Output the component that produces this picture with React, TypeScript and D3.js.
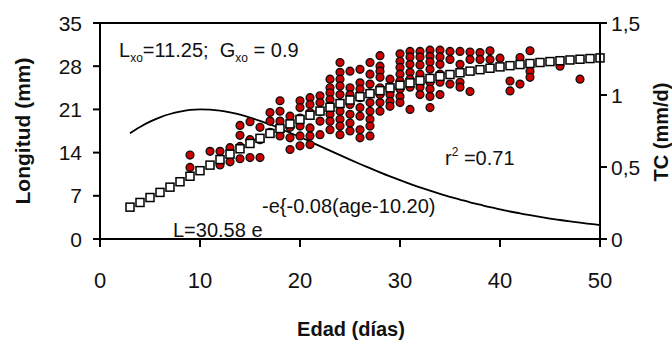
import React from 'react';
import * as d3 from 'd3';

// Model ages (days)
const modelAges = [3,4,5,6,7,8,9,10,11,12,13,14,15,16,17,18,19,20,21,22,23,24,25,26,27,28,29,30,31,32,33,34,35,36,37,38,39,40,41,42,43,44,45,46,47,48,49,50];
// Fitted length (mm) - squares
const fittedLength = [5.16,5.92,6.72,7.55,8.40,9.28,10.17,11.07,11.97,12.87,13.75,14.62,15.48,16.31,17.11,17.90,18.65,19.37,20.06,20.73,21.35,21.95,22.52,23.06,23.56,24.04,24.49,24.91,25.30,25.68,26.02,26.35,26.65,26.94,27.20,27.44,27.67,27.89,28.09,28.27,28.44,28.60,28.75,28.89,29.01,29.13,29.24,29.34];
// Growth rate TC (mm/d) - line
const growthRate = [0.735,0.778,0.815,0.845,0.868,0.885,0.896,0.900,0.898,0.891,0.879,0.863,0.843,0.820,0.795,0.767,0.738,0.708,0.677,0.645,0.614,0.582,0.551,0.521,0.492,0.463,0.435,0.409,0.383,0.359,0.336,0.314,0.293,0.274,0.255,0.238,0.221,0.206,0.191,0.178,0.165,0.153,0.142,0.132,0.122,0.113,0.105,0.097];

// Observed lengths grouped by age
const obsAges = [9,11,12,13,14,15,16,17,18,19,20,21,22,23,24,25,26,27,28,29,30,31,32,33,34,35,36,37,38,39,40,41,42,43,46,48];
const obsLengths = [
  [13.6,11.6],
  [14.2],
  [14.2,12.0],
  [14.8,12.5],
  [18.4,16.8,15.0,13.0],
  [19.0,16.1,13.2],
  [18.1,16.1,13.2],
  [20.5,19.1,17.3],
  [22.4,20.7,19.1,16.7],
  [19.9,18.1,16.4,14.5],
  [22.4,21.3,19.6,18.3,16.7,15.1],
  [22.9,21.8,20.5,18.0,16.7,15.3],
  [23.2,22.1,20.7,19.1,16.9],
  [25.9,24.5,23.7,22.6,21.5,20.2,19.1,17.7],
  [28.6,27.0,25.9,24.8,23.4,20.7,19.4,18.3,16.9],
  [27.2,24.5,23.4,21.8,20.2,18.8,17.5],
  [27.5,25.3,24.3,22.9,21.3,19.9,17.7,16.4],
  [28.6,26.7,25.1,23.7,22.1,20.7,19.4,18.3,16.7],
  [29.7,28.0,27.2,26.2,24.5,23.4,22.1,20.7],
  [25.9,24.6,23.4,22.3,21.5],
  [30.0,28.8,27.8,26.7,25.6,24.3,23.1,22.1],
  [30.4,29.5,28.3,27.0,25.9,24.6,21.0],
  [30.4,29.5,28.2,26.7,24.6,23.4],
  [30.6,29.6,28.7,27.5,25.4,24.3,23.1,21.3],
  [30.6,29.5,28.3,26.7,25.4,23.4],
  [30.4,29.1,25.1],
  [30.4,28.3,25.4,24.6],
  [30.3,29.1,23.9],
  [30.2,29.1],
  [30.5,29.1],
  [29.3],
  [25.6,24.0],
  [29.4,25.1],
  [30.5,28.3,27.2,26.2],
  [28.0],
  [25.9],
];

const xTicks = [0,10,20,30,40,50];
const yTicks = [0,7,14,21,28,35];
const y2Ticks = [0,0.5,1,1.5];
const y2TickLabels = ['0','0,5','1','1,5'];

const FONT = "'Liberation Sans', Arial, Helvetica, sans-serif";

export default function App() {
  const W = 672, H = 341;
  const x = d3.scaleLinear().domain([0, 50]).range([100, 600]);
  const y = d3.scaleLinear().domain([0, 35]).range([239, 23]);
  const y2 = d3.scaleLinear().domain([0, 1.5]).range([239, 23]);

  const rateLine = d3.line<number>()
    .x((_, i) => x(modelAges[i]))
    .y((d) => y2(d))
    .curve(d3.curveMonotoneX);

  const points: { a: number; l: number }[] = [];
  obsAges.forEach((a, i) => obsLengths[i].forEach((l) => points.push({ a, l })));

  return (
    <svg width={W} height={H} style={{ position: 'absolute', left: 0, top: 0, background: '#fff' }} fontFamily={FONT}>
      <rect x={0} y={0} width={W} height={H} fill="#fff" />
      {/* growth rate curve */}
      <path d={rateLine(growthRate) || ''} fill="none" stroke="#000" strokeWidth={1.8} />
      {/* observed points */}
      {points.map((p, i) => (
        <circle key={i} cx={x(p.a)} cy={y(p.l)} r={3.9} fill="#cc0000" stroke="#111" strokeWidth={1.4} />
      ))}
      {/* fitted squares */}
      {modelAges.map((a, i) => (
        <rect key={i} x={x(a) - 4} y={y(fittedLength[i]) - 4} width={8} height={8} fill="#fff" stroke="#000" strokeWidth={1.5} />
      ))}
      {/* frame */}
      <line x1={100} x2={600} y1={23} y2={23} stroke="#000" strokeWidth={2} />
      <line x1={100} x2={600} y1={239} y2={239} stroke="#000" strokeWidth={2} />
      <line x1={100} x2={100} y1={23} y2={239} stroke="#000" strokeWidth={2} />
      <line x1={600} x2={600} y1={23} y2={239} stroke="#000" strokeWidth={2} />
      {/* x ticks */}
      {xTicks.map((t) => (
        <g key={t}>
          <line x1={x(t)} x2={x(t)} y1={239} y2={247} stroke="#000" strokeWidth={2} />
          <text x={x(t)} y={288} textAnchor="middle" fontSize={22} fill="#111">{t}</text>
        </g>
      ))}
      {/* y ticks */}
      {yTicks.map((t) => (
        <g key={t}>
          <line x1={93} x2={100} y1={y(t)} y2={y(t)} stroke="#000" strokeWidth={2} />
          <text x={82} y={y(t) + 7.5} textAnchor="end" fontSize={21} fill="#111">{t}</text>
        </g>
      ))}
      {/* y2 ticks */}
      {y2Ticks.map((t, i) => (
        <g key={t}>
          <line x1={600} x2={607} y1={y2(t)} y2={y2(t)} stroke="#000" strokeWidth={2} />
          <text x={611} y={y2(t) + 7.5} textAnchor="start" fontSize={21} fill="#111">{y2TickLabels[i]}</text>
        </g>
      ))}
      {/* axis titles */}
      <text transform="translate(30,131) rotate(-90)" textAnchor="middle" fontSize={21} fontWeight="bold" fill="#111" textLength={147} lengthAdjust="spacingAndGlyphs">Longitud (mm)</text>
      <text transform="translate(668,132) rotate(-90)" textAnchor="middle" fontSize={20} fontWeight="bold" fill="#111">TC (mm/d)</text>
      <text x={351} y={336} textAnchor="middle" fontSize={20} fontWeight="bold" fill="#111">Edad (días)</text>
      {/* annotations */}
      <text x={119} y={57} fontSize={20} fill="#111" style={{ whiteSpace: 'pre' }}>
        L<tspan fontSize={12} dy={5}>xo</tspan><tspan dy={-5}>=11.25;  G</tspan><tspan fontSize={12} dy={5}>xo</tspan><tspan dy={-5}> = 0.9</tspan>
      </text>
      <text x={445} y={165} fontSize={20} fill="#111">
        r<tspan fontSize={12} dy={-9}>2</tspan><tspan dy={9}> =0.71</tspan>
      </text>
      <text x={173} y={237} fontSize={20} fill="#111">L=30.58 e</text>
      <text x={262} y={213} fontSize={20} fill="#111">-e{'{'}-0.08(age-10.20)</text>
    </svg>
  );
}
